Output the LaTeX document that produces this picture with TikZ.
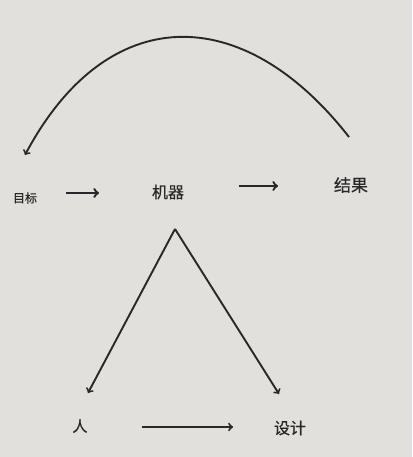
\documentclass[tikz,border=0pt]{standalone}
\usepackage{fontspec}
\newfontfamily\cjk[FakeBold=0.6]{Noto Sans CJK SC}
\usetikzlibrary{arrows}
\definecolor{paper}{RGB}{226,224,220}
\definecolor{ink}{RGB}{40,40,40}

\begin{document}
\begin{tikzpicture}[x=1pt,y=1pt,join=round,
        lbl/.style={font=\cjk\fontsize{16}{16}\selectfont,text=ink,inner sep=0pt},
        arr/.style={->,draw=ink,line width=1.9pt}] % goal -> machine -> result
        \fill[paper](0,0) rectangle (412,457);
        \useasboundingbox (0,0) rectangle (412,457);
        % labels
        \node[lbl,font=\cjk\fontsize{12}{12}\selectfont] (goal) at (25,259) {目标};
        \node[lbl] (machine) at (168,265) {机器};
        \node[lbl,font=\cjk\fontsize{17}{17}\selectfont] (result) at (351,272) {结果};
        \node[lbl,font=\cjk\fontsize{15}{15}\selectfont] (person) at (80,31) {人};
        \node[lbl] (design) at (290,29) {设计};
        % free ends
        \coordinate (arcfrom) at (349,320);
        \coordinate (arcto) at (25,302);
        \coordinate (g1) at (66,264);
        \coordinate (g2) at (99,264);
        \coordinate (m1) at (239,271);
        \coordinate (m2) at (278,271);
        \coordinate (p1) at (142,30);
        \coordinate (p2) at (233,30);
        \coordinate (apex) at (175,228);
        \coordinate (toperson) at (88,64);
        \coordinate (todesign) at (279,63);
        % connectors
        \draw[arr](arcfrom) to[out=128,in=62,looseness=1.37] (arcto);
        \draw[arr,line width=2.4pt](g1)--(g2);
        \draw[arr,line width=2.4pt](m1)--(m2);
        \draw[arr,line width=2pt](p1)--(p2);
        \draw[arr](apex)--(toperson);
        \draw[arr](apex)--(todesign);
\end{tikzpicture}
\end{document}
